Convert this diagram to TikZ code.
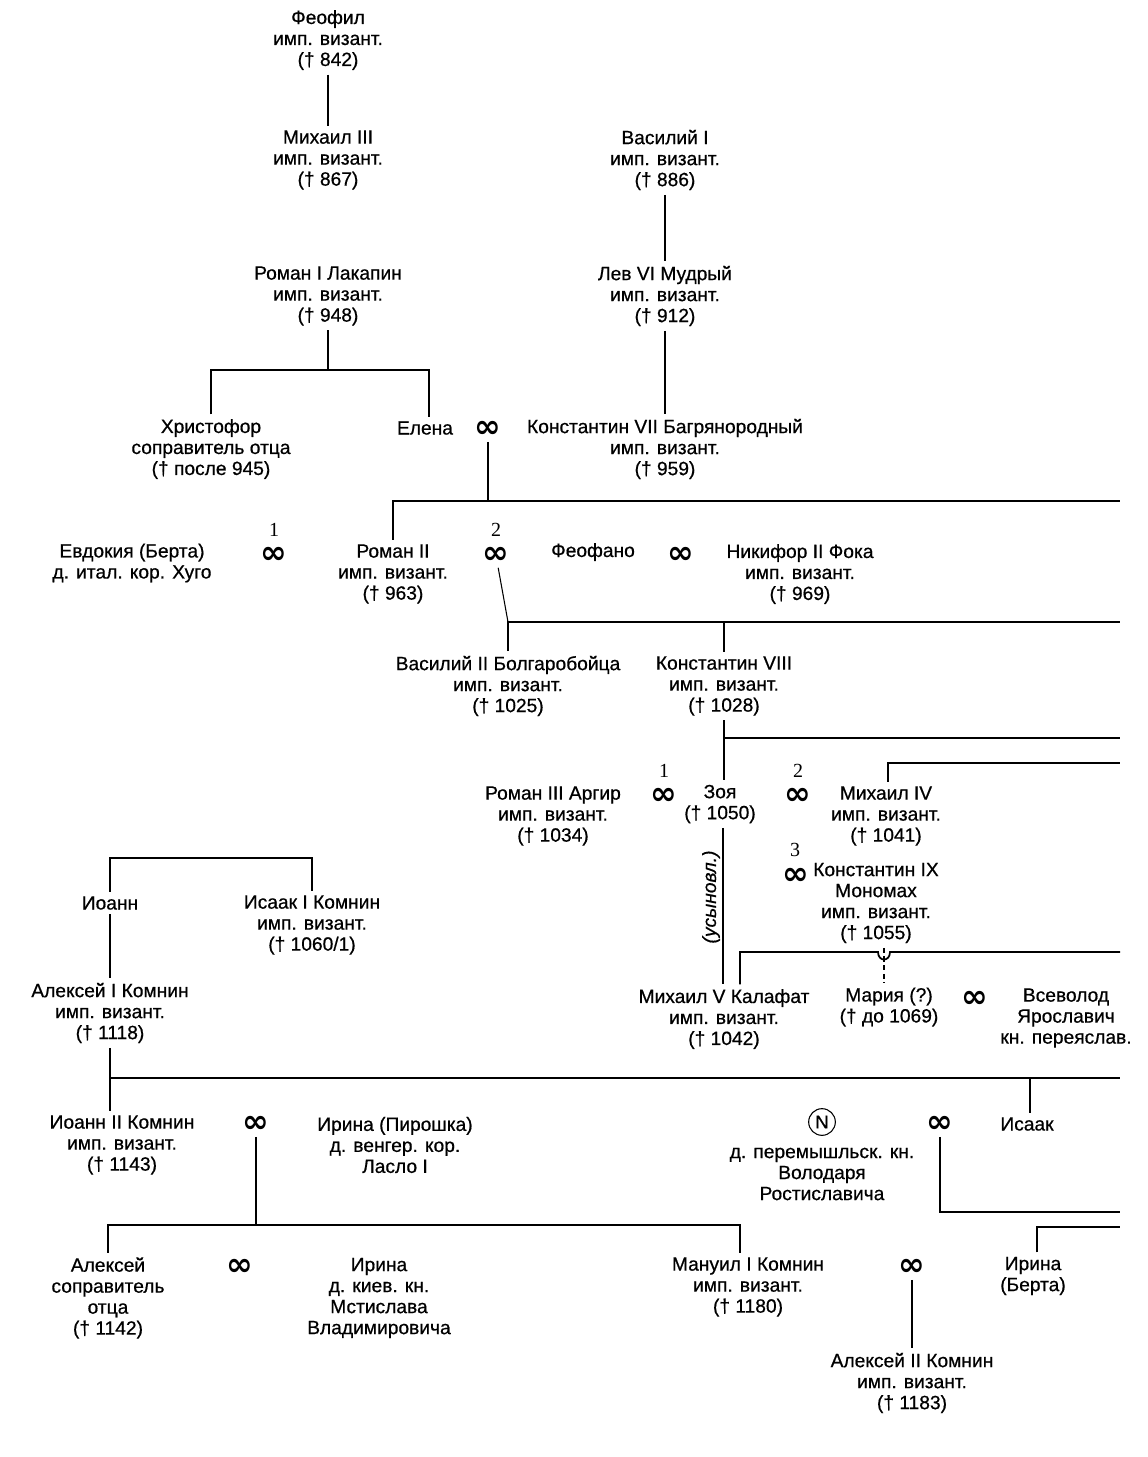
\documentclass[tikz,border=0pt]{standalone}
\usepackage{fontspec}
\setmainfont{Liberation Sans}[FakeBold=0.6]
\newfontfamily\bodyfont{Liberation Sans}[FakeBold=0.6]
\newfontfamily\bodyitfont{Liberation Sans Italic}[FakeBold=0.6]
\newfontfamily\serifnum{Liberation Serif}
\newfontfamily\symfont{DejaVu Sans Bold}
\begin{document}
\begin{tikzpicture}[x=0.75pt,y=-0.75pt,
  person/.style={align=center, inner sep=0pt, outer sep=3.5pt, font=\bodyfont\fontsize{14.4}{15.75}\selectfont},
  marr/.style={inner sep=0pt, outer sep=3pt, yshift=-3.5pt, font=\symfont\fontsize{24}{24}\selectfont},
  num/.style={inner sep=0pt, font=\serifnum\fontsize{15}{15}\selectfont},
  line/.style={line width=1.3pt},
  thinline/.style={line width=0.8pt},
]
\fill[white] (0,0) rectangle (1148,1457);
\useasboundingbox (0,0) rectangle (1148,1457);

% persons
\node[person] (feofil) at (328,40) {Феофил\\имп. визант.\\(† 842)};
\node[person] (mikhail3) at (328,160) {Михаил III\\имп. визант.\\(† 867)};
\node[person] (vasiliy1) at (665,160) {Василий I\\имп. визант.\\(† 886)};
\node[person] (roman1) at (328,296) {Роман I Лакапин\\имп. визант.\\(† 948)};
\node[person] (lev6) at (665,296) {Лев VI Мудрый\\имп. визант.\\(† 912)};
\node[person] (hristofor) at (211,449) {Христофор\\соправитель отца\\(† после 945)};
\node[person] (elena) at (425,428) {Елена};
\node[person] (konst7) at (665,449) {Константин VII Багрянородный\\имп. визант.\\(† 959)};
\node[person] (evdokiya) at (132,563) {Евдокия (Берта)\\д. итал. кор. Хуго};
\node[person] (roman2) at (393,574) {Роман II\\имп. визант.\\(† 963)};
\node[person] (feofano) at (593,552) {Феофано};
\node[person] (nikifor) at (800,574) {Никифор II Фока\\имп. визант.\\(† 969)};
\node[person] (vasiliy2) at (508,686) {Василий II Болгаробойца\\имп. визант.\\(† 1025)};
\node[person] (konst8) at (724,686) {Константин VIII\\имп. визант.\\(† 1028)};
\node[person] (roman3) at (553,816) {Роман III Аргир\\имп. визант.\\(† 1034)};
\node[person] (zoya) at (720,804) {Зоя\\(† 1050)};
\node[person] (mikhail4) at (886,816) {Михаил IV\\имп. визант.\\(† 1041)};
\node[person] (konst9) at (876,903) {Константин IX\\Мономах\\имп. визант.\\(† 1055)};
\node[person, rotate=90, font=\bodyitfont\fontsize{14.4}{15.75}\selectfont] (usyn) at (711,897) {(усыновл.)};
\node[person] (mikhail5) at (724,1019) {Михаил V Калафат\\имп. визант.\\(† 1042)};
\node[person] (mariya) at (889,1007) {Мария (?)\\(† до 1069)};
\node[person] (vsevolod) at (1066,1018) {Всеволод\\Ярославич\\кн. переяслав.};
\node[person] (ioann) at (110,903) {Иоанн};
\node[person] (isaak1) at (312,925) {Исаак I Комнин\\имп. визант.\\(† 1060/1)};
\node[person] (aleksey1) at (110,1013) {Алексей I Комнин\\имп. визант.\\(† 1118)};
\node[person] (ioann2) at (122,1145) {Иоанн II Комнин\\имп. визант.\\(† 1143)};
\node[person] (irinap) at (395,1145) {Ирина (Пирошка)\\д. венгер. кор.\\Ласло I};
\node[circle, draw, thinline, minimum size=20pt, inner sep=0pt, font=\bodyfont\fontsize{14}{14}\selectfont] (nn) at (822,1122) {N};
\node[person] (docheri) at (822,1174) {д. перемышльск. кн.\\Володаря\\Ростиславича};
\node[person] (isaak) at (1027,1124) {Исаак};
\node[person] (aleksey) at (108,1298) {Алексей\\соправитель\\отца\\(† 1142)};
\node[person] (irinak) at (379,1298) {Ирина\\д. киев. кн.\\Мстислава\\Владимировича};
\node[person] (manuil) at (748,1287) {Мануил I Комнин\\имп. визант.\\(† 1180)};
\node[person] (irinab) at (1033,1276) {Ирина\\(Берта)};
\node[person] (aleksey2) at (912,1383) {Алексей II Комнин\\имп. визант.\\(† 1183)};

% marriages
\node[marr] (me) at (488,425) {∞};
\node[marr] (mev) at (274,551) {∞};
\node[num] (nev) at (274,530) {1};
\node[marr] (mrf) at (496,551) {∞};
\node[num] (nrf) at (496,530) {2};
\node[marr] (mfn) at (681,551) {∞};
\node[marr] (mrz) at (664,792) {∞};
\node[num] (nrz) at (664,771) {1};
\node[marr] (mzm) at (798,792) {∞};
\node[num] (nzm) at (798,771) {2};
\node[marr] (mzk) at (796,872) {∞};
\node[num] (nzk) at (795,850) {3};
\node[marr] (mmv) at (975,995) {∞};
\node[marr] (mii) at (256,1120) {∞};
\node[marr] (mni) at (940,1120) {∞};
\node[marr] (mai) at (240,1263) {∞};
\node[marr] (mmi) at (912,1263) {∞};

% connectors
\draw[line] (feofil) -- (mikhail3);
\draw[line] (vasiliy1) -- (lev6);
\draw[line] (lev6) -- (konst7);

\coordinate (jr1) at (328,370);
\draw[line] (roman1) -- (jr1);
\draw[line] (hristofor.north) -- (hristofor.north |- jr1) -- ([xshift=3pt]elena.north |- jr1) -- ([xshift=3pt]elena.north);

\coordinate (e1) at (1120,501);
\draw[thinline] (me) -- (me |- e1);
\draw[line] (roman2.north) -- (roman2.north |- e1) -- (e1);

\coordinate (j2) at (508,622);
\coordinate (e2) at (1120,622);
\draw[thinline] (mrf) -- (j2);
\draw[line] (vasiliy2.north) -- (vasiliy2.north |- e2) -- (e2);
\draw[line] (konst8.north) -- (konst8.north |- e2);

\coordinate (e3) at (1120,738);
\draw[line] (konst8.south) -- (konst8.south |- zoya.north);
\draw[line] (konst8.south |- e3) -- (e3);

\coordinate (e4) at (1120,763);
\draw[line] ([xshift=1.5pt]mikhail4.north) -- ([xshift=1.5pt]mikhail4.north |- e4) -- (e4);

\draw[line] ([xshift=2pt]zoya.south) -- ([xshift=2pt]zoya.south |- mikhail5.north);

\coordinate (hopL) at (878,952);
\coordinate (hopR) at (890,952);
\coordinate (e5) at (1120,952);
\draw[line] ([xshift=12pt]mikhail5.north) -- ([xshift=12pt]mikhail5.north |- hopL) -- (hopL) .. controls +(0,10) and +(0,10) .. (hopR) -- (e5);
\coordinate (dk) at (884,0);
\draw[thinline, dash pattern=on 4pt off 2.5pt] (dk |- konst9.south) -- (dk |- mariya.north);

\coordinate (jl) at (200,858);
\draw[line] (ioann.north) -- (ioann.north |- jl) -- (isaak1.north |- jl) -- (isaak1.north);
\draw[line] (ioann) -- (aleksey1);
\coordinate (e6) at (1120,1078);
\draw[line] (aleksey1.south) -- (aleksey1.south |- ioann2.north);
\draw[line] (aleksey1.south |- e6) -- (e6);
\draw[line] ([xshift=2pt]isaak.north) -- ([xshift=2pt]isaak.north |- e6);

\coordinate (j7) at (256,1225);
\draw[thinline] (mii) -- (j7);
\draw[line] (aleksey.north) -- (aleksey.north |- j7) -- ([xshift=-6pt]manuil.north |- j7) -- ([xshift=-6pt]manuil.north);

\coordinate (e8) at (1120,1212);
\draw[line] (mni) -- (mni |- e8) -- (e8);

\coordinate (e9) at (1120,1227);
\draw[line] ([xshift=3pt]irinab.north) -- ([xshift=3pt]irinab.north |- e9) -- (e9);

\draw[thinline] (mmi) -- (aleksey2);
\end{tikzpicture}
\end{document}
